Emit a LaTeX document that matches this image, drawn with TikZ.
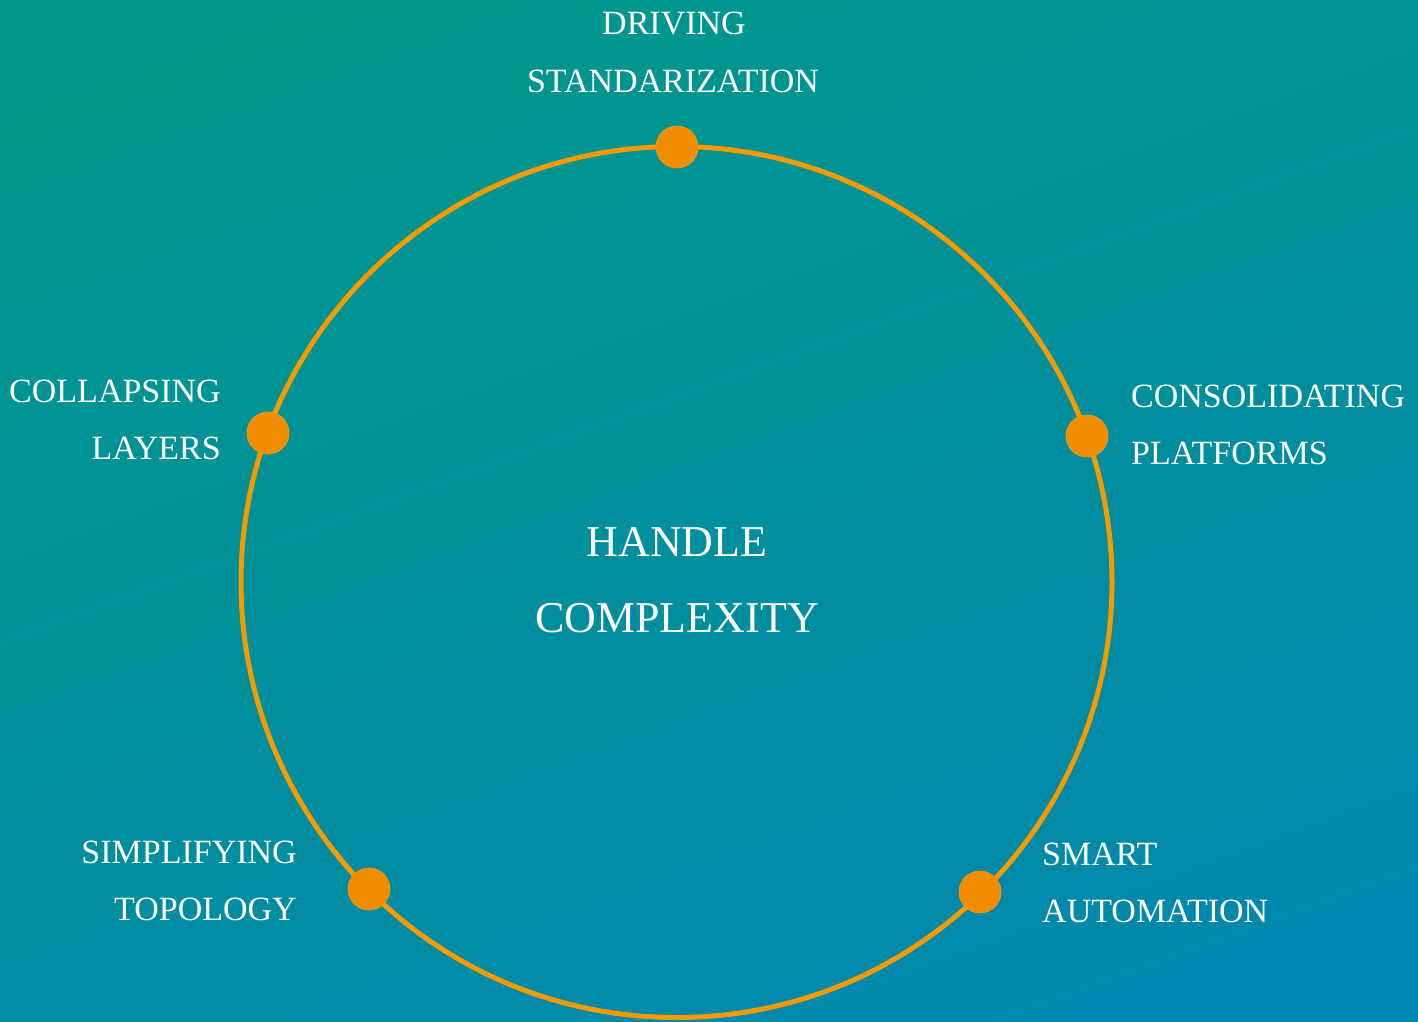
\documentclass[tikz,border=0pt]{standalone}
\usepackage{fontspec}
\setmainfont{Liberation Serif}
\definecolor{bgtl}{HTML}{00978A}
\definecolor{bgbr}{HTML}{0087AE}
\definecolor{ringc}{HTML}{F59B00}
\definecolor{dotc}{HTML}{F08C00}
\tikzset{
  ring/.style={draw=ringc, line width=5pt},
  dotmark/.style={circle, fill=dotc, draw=ringc, line width=0.8pt, minimum size=42pt, inner sep=0pt},
  lab/.style={text=white, font=\fontsize{34}{40}\selectfont, inner sep=0pt},
  biglab/.style={text=white, font=\fontsize{44}{50}\selectfont, inner sep=0pt}
}
\begin{document}
\begin{tikzpicture}[x=1pt,y=-1pt]
\useasboundingbox (0,0) rectangle (1418,1021);
\shade[top color=bgtl, bottom color=bgbr, shading angle=20] (-60,-60) rectangle (1478,1081);
\coordinate (c) at (676.5,582);
\draw[ring] (c) circle[radius=435.5pt];
\node[dotmark] (d1) at (677,147) {};
\node[dotmark] (d2) at (1087,436) {};
\node[dotmark] (d3) at (268,433) {};
\node[dotmark] (d4) at (369,889) {};
\node[dotmark] (d5) at (980,892) {};
% top
\node[lab, anchor=base] (t1) at (674,34) {DRIVING};
\node[lab, anchor=base] (t2) at (673,92) {STANDARIZATION};
% left
\node[lab, anchor=base east] (l1) at (221,402) {COLLAPSING};
\node[lab, anchor=base east] (l2) at (221,459) {LAYERS};
% right
\node[lab, anchor=base west] (r1) at (1131,407) {CONSOLIDATING};
\node[lab, anchor=base west] (r2) at (1131,464) {PLATFORMS};
% bottom left
\node[lab, anchor=base east] (bl1) at (297,863) {SIMPLIFYING};
\node[lab, anchor=base east] (bl2) at (297,920) {TOPOLOGY};
% bottom right
\node[lab, anchor=base west] (br1) at (1042,865) {SMART};
\node[lab, anchor=base west] (br2) at (1042,922) {AUTOMATION};
% center
\node[biglab, anchor=base] (m1) at (677,556) {HANDLE};
\node[biglab, anchor=base] (m2) at (677,632) {COMPLEXITY};
\end{tikzpicture}
\end{document}
